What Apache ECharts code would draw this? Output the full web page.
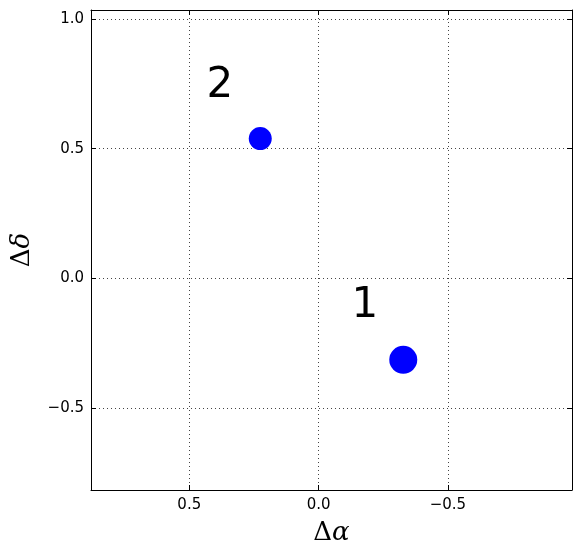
<!DOCTYPE html>
<html><head><meta charset="utf-8">
<script src="https://cdn.jsdelivr.net/npm/echarts@6/dist/echarts.min.js"></script>
<style>html,body{margin:0;padding:0;background:#fff}#c{width:580px;height:558px}</style>
</head><body><div id="c"></div>
<script>
// Data
const pointNames = ['1', '2'];
const deltaAlpha = [-0.3275, 0.2255];
const deltaDelta = [-0.314, 0.539];
const labelText = ['1', '2'];
const labelAlpha = [-0.181, 0.380];
const labelDelta = [-0.108, 0.740];
const xTicks = [0.5, 0.0, -0.5];
const yTicks = [-0.5, 0.0, 0.5, 1.0];

// Styling
const markerSizes = [28, 23];

const fmt = v => { const r = Math.round(v * 10) / 10; return r < 0 ? '\u2212' + (-r).toFixed(1) : r.toFixed(1); };
const chart = echarts.init(document.getElementById('c'), null, {renderer: 'canvas'});
const tickFont = {fontFamily: 'DejaVu Sans', fontSize: 15, color: '#000'};
const grid = {left: 91, top: 10, right: 8, bottom: 68};
const X_MIN = -0.98, X_MAX = 0.88, Y_MIN = -0.816, Y_MAX = 1.035;
const richName = {d: {fontFamily: 'DejaVu Serif', fontSize: 26, color: '#000'}, a: {fontFamily: 'DejaVu Serif', fontStyle: 'italic', fontSize: 26, color: '#000'}};

function xAx(pos, main) {
  return {
    type: 'value', position: pos, inverse: true, min: X_MIN, max: X_MAX, interval: 0.5,
    axisLine: {show: true, onZero: false, lineStyle: {color: '#000', width: 1}},
    axisTick: {show: true, inside: true, length: 5, customValues: xTicks, lineStyle: {color: '#000'}},
    axisLabel: {show: main, customValues: xTicks, formatter: fmt, margin: 8, ...tickFont},
    splitLine: {show: main, lineStyle: {color: '#444', type: [1, 3], width: 1}},
    name: main ? '{d|\u0394}{a|\u03b1}' : '', nameLocation: 'middle', nameGap: 30,
    nameTextStyle: {rich: richName}
  };
}
function yAx(pos, main) {
  return {
    type: 'value', position: pos, min: Y_MIN, max: Y_MAX, interval: 0.5,
    axisLine: {show: true, onZero: false, lineStyle: {color: '#000', width: 1}},
    axisTick: {show: true, inside: true, length: 5, customValues: yTicks, lineStyle: {color: '#000'}},
    axisLabel: {show: main, customValues: yTicks, formatter: fmt, margin: 7, ...tickFont},
    splitLine: {show: main, lineStyle: {color: '#444', type: [1, 3], width: 1}},
    name: main ? '{d|\u0394}{a|\u03b4}' : '', nameLocation: 'middle', nameGap: 56, nameRotate: 90,
    nameTextStyle: {rich: richName}
  };
}

chart.setOption({
  animation: false,
  backgroundColor: '#fff',
  grid: grid,
  xAxis: [xAx('bottom', true), xAx('top', false)],
  yAxis: [yAx('left', true), yAx('right', false)],
  series: [
    {
      type: 'scatter', xAxisIndex: 0, yAxisIndex: 0,
      data: pointNames.map((n, i) => ({name: n, value: [deltaAlpha[i], deltaDelta[i]], symbolSize: markerSizes[i]})),
      itemStyle: {color: '#0000ff', opacity: 1}
    },
    {
      type: 'scatter', xAxisIndex: 0, yAxisIndex: 0, symbolSize: 1, silent: true,
      itemStyle: {color: 'rgba(0,0,0,0)'},
      data: labelText.map((t, i) => ({name: t, value: [labelAlpha[i], labelDelta[i]]})),
      label: {show: true, position: [0, 0], align: 'center', verticalAlign: 'middle', opacity: 1,
        formatter: p => '{t|' + p.name + '}',
        rich: {t: {fontFamily: 'DejaVu Sans', fontSize: 42, color: '#000000', opacity: 1}}}
    }
  ]
});
</script></body></html>
